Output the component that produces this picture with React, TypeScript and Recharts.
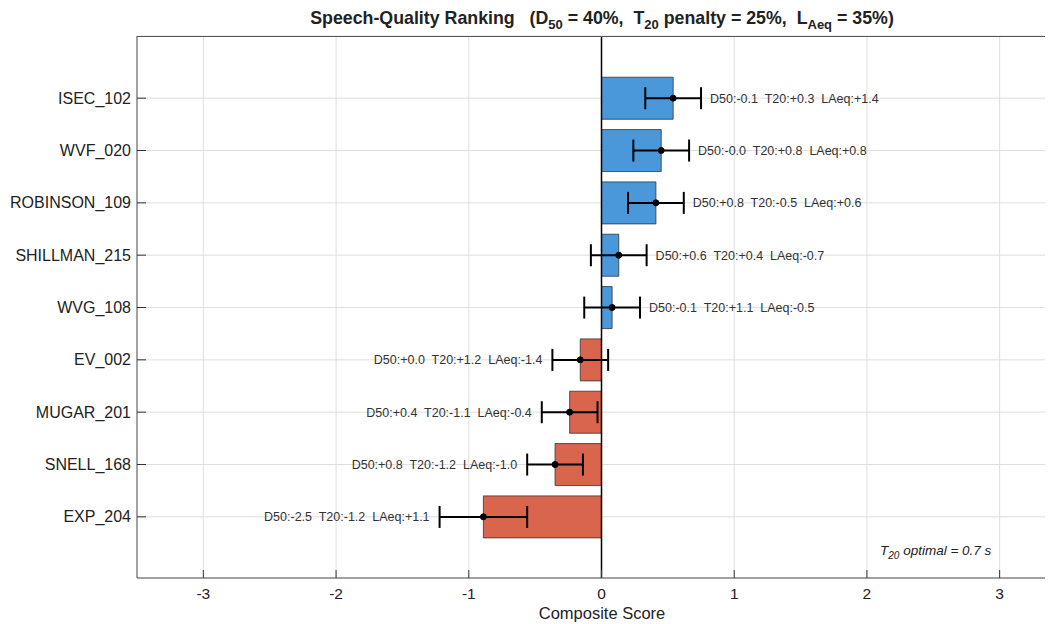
import {
  Bar,
  CartesianGrid,
  Cell,
  ComposedChart,
  ErrorBar,
  LabelList,
  Line,
  ReferenceLine,
  XAxis,
  YAxis,
} from 'recharts';

// rooms, top to bottom
const rooms = [
  'ISEC_102',
  'WVF_020',
  'ROBINSON_109',
  'SHILLMAN_215',
  'WVG_108',
  'EV_002',
  'MUGAR_201',
  'SNELL_168',
  'EXP_204',
];
const scores = [0.54, 0.45, 0.41, 0.13, 0.08, -0.16, -0.24, -0.35, -0.89];
const errors = [0.21, 0.21, 0.21, 0.21, 0.21, 0.21, 0.21, 0.21, 0.33];
const d50 = ['-0.1', '-0.0', '+0.8', '+0.6', '-0.1', '+0.0', '+0.4', '+0.8', '-2.5'];
const t20 = ['+0.3', '+0.8', '-0.5', '+0.4', '+1.1', '+1.2', '-1.1', '-1.2', '-1.2'];
const laeq = ['+1.4', '+0.8', '+0.6', '-0.7', '-0.5', '-1.4', '-0.4', '-1.0', '+1.1'];
const xTicks = [-3, -2, -1, 0, 1, 2, 3];

const FONT = '"Liberation Sans", Arial, Helvetica, sans-serif';
const BLUE = '#4a98da';
const RED = '#da654d';

const data = rooms.map((room, i) => ({
  room,
  score: scores[i],
  err: errors[i],
  labelPos: scores[i] >= 0 ? scores[i] + errors[i] : scores[i] - errors[i],
  text: `D50:${d50[i]}  T20:${t20[i]}  LAeq:${laeq[i]}`,
}));

const PLOT_TOP = 36;
const PLOT_BOTTOM = 578;
const PLOT_LEFT = 137;

const XTick = (props: any) => {
  const { x, payload } = props;
  return (
    <g>
      <line x1={x} x2={x} y1={PLOT_BOTTOM} y2={PLOT_BOTTOM - 8} stroke="#333" />
      <text x={x} y={PLOT_BOTTOM + 21} textAnchor="middle" fontSize={15.5} fill="#222" fontFamily={FONT}>
        {payload.value}
      </text>
    </g>
  );
};

const YTick = (props: any) => {
  const { y, payload } = props;
  return (
    <g>
      <line x1={PLOT_LEFT} x2={PLOT_LEFT + 9} y1={y} y2={y} stroke="#333" />
      <text x={PLOT_LEFT - 6} y={y + 5.5} textAnchor="end" fontSize={16} fill="#222" fontFamily={FONT}>
        {payload.value}
      </text>
    </g>
  );
};

const NoteLabel = (props: any) => {
  const { x, y, index } = props;
  const d = data[index];
  const pos = d.score >= 0;
  return (
    <text
      x={pos ? x + 9 : x - 10}
      y={y + 4.5}
      textAnchor={pos ? 'start' : 'end'}
      fontSize={12.5}
      fill="#333"
      fontFamily={FONT}
      style={{ whiteSpace: 'pre' }}
    >
      {d.text}
    </text>
  );
};

export default function App() {
  return (
    <div
      style={{
        position: 'relative',
        margin: '-8px 0 0 -8px',
        width: 1053,
        height: 624,
        overflow: 'hidden',
        background: '#fff',
      }}
    >
      <ComposedChart
        width={1070}
        height={624}
        data={data}
        layout="vertical"
        margin={{ top: PLOT_TOP, right: 4, bottom: 0, left: 0 }}
        barCategoryGap="10%"
      >
        <CartesianGrid stroke="#dedede" />
        <XAxis
          type="number"
          dataKey="score"
          domain={[-3.5, 3.5]}
          ticks={xTicks}
          height={46}
          tickSize={0}
          tickMargin={0}
          tickLine={false}
          axisLine={{ stroke: '#555' }}
          tick={<XTick />}
          allowDataOverflow
        />
        <YAxis
          type="category"
          dataKey="room"
          width={137}
          tickSize={0}
          tickMargin={0}
          tickLine={false}
          axisLine={{ stroke: '#555' }}
          tick={<YTick />}
          padding={{ top: 36, bottom: 35 }}
        />
        <Bar dataKey="score" stroke="#333" strokeWidth={0.8} isAnimationActive={false}>
          {data.map((d) => (
            <Cell key={d.room} fill={d.score >= 0 ? BLUE : RED} />
          ))}
          <ErrorBar dataKey="err" direction="x" width={11} stroke="#000" strokeWidth={2} />
        </Bar>
        <ReferenceLine x={0} stroke="#000" strokeWidth={1.5} />
        <Line
          dataKey="score"
          stroke="none"
          dot={{ r: 3, fill: '#000', stroke: '#000' }}
          activeDot={false}
          isAnimationActive={false}
        />
        <Line dataKey="labelPos" stroke="none" dot={false} activeDot={false} isAnimationActive={false}>
          <LabelList dataKey="labelPos" content={<NoteLabel />} />
        </Line>
      </ComposedChart>
      <svg width={1053} height={624} style={{ position: 'absolute', left: 0, top: 0, pointerEvents: 'none' }}>
        <line x1={PLOT_LEFT} x2={1053} y1={PLOT_TOP + 0.5} y2={PLOT_TOP + 0.5} stroke="#555" />
        <text x={602} y={24} textAnchor="middle" fontSize={17.8} fontWeight="bold" fill="#222" fontFamily={FONT} style={{ whiteSpace: 'pre' }}>
          {'Speech-Quality Ranking   (D'}
          <tspan fontSize={13} dy={5}>50</tspan>
          <tspan dy={-5}>{' = 40%,  T'}</tspan>
          <tspan fontSize={13} dy={5}>20</tspan>
          <tspan dy={-5}>{' penalty = 25%,  L'}</tspan>
          <tspan fontSize={13} dy={5}>Aeq</tspan>
          <tspan dy={-5}>{' = 35%)'}</tspan>
        </text>
        <text x={880} y={555} fontSize={13.5} fontStyle="italic" fill="#222" fontFamily={FONT} style={{ whiteSpace: 'pre' }}>
          {'T'}
          <tspan fontSize={10} dy={4}>20</tspan>
          <tspan dy={-4}>{' optimal = 0.7 s'}</tspan>
        </text>
        <text x={602} y={619} textAnchor="middle" fontSize={16.5} fill="#222" fontFamily={FONT}>
          Composite Score
        </text>
      </svg>
    </div>
  );
}
